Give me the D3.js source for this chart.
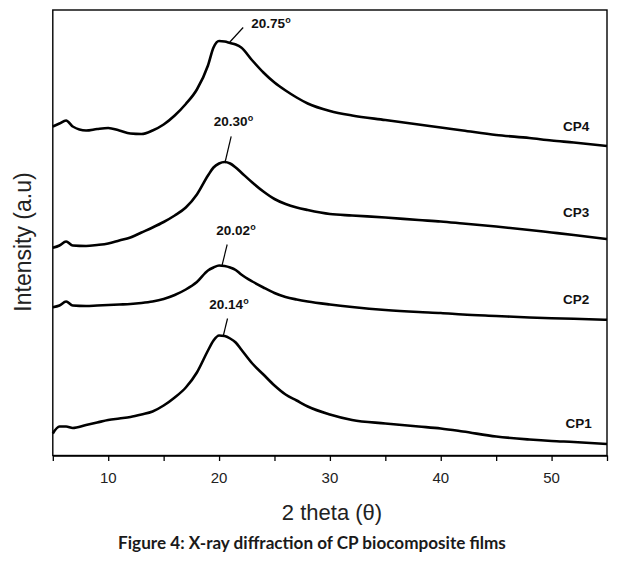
<!DOCTYPE html>
<html><head><meta charset="utf-8">
<script src="https://cdn.jsdelivr.net/npm/d3@7"></script>
<style>body{margin:0;background:#fff}svg{display:block}
.ar{font-family:"Liberation Sans",Arial,Helvetica,sans-serif}
.cal{font-family:Lato,"Open Sans",sans-serif}</style>
</head><body>
<svg id="c" width="617" height="563" viewBox="0 0 617 563"></svg>
<script>
const theta = [5,5.6,6.2,6.8,8,9,10,11,12,13,14,15,16,17,18,19,19.5,20,20.5,21,21.5,22,23,24,25,26,27,28,30,32,35,38,40,42,45,48,50,52,55];
const cp1 = [22,29,29,27.5,30.5,33,35.5,37,38.5,41,44,50,58,68,83,105,115,120,119.5,117,113,106,92,81,70,61,55,49,41,35.5,32,29,27,24,19,16,14.5,13.5,11.5];
const cp2 = [148.3,150,154,150,149.5,150,150.5,151,151.5,152.5,154,156.5,160.5,166,173.5,185,188,190,189.5,188,185.5,181,174,168,162.5,158.5,156,154,151,148.5,145.5,143.5,142.5,141,139.5,138,137.3,136.7,135.7];
const cp3 = [207.7,210,214,210,209.5,210.5,212,215,218,223,228,233.5,240,248,261,280,288,292,293.5,292,288,283,273,264,256.5,251.5,248,245.5,241.5,240,238,235.5,234,232,229,225.5,223,220.5,216.5];
const cp4 = [329,332,335,329,325,326.5,327.5,325,322,321.5,325,331,340,351.5,366,390,408,414.5,414,412.5,411,408,395,383,373,365,358,352,344.5,340,335.5,331,328,325,320.5,317.5,315,313,309.5];
const seriesNames = ["CP1","CP2","CP3","CP4"];
const peakLabels = ["20.14","20.02","20.30","20.75"];
const peakTheta = [20.14,20.02,20.30,20.75];
const xTicks = [10,20,30,40,50];
const xMinor = [5,10,15,20,25,30,35,40,45,50,55];

const svg = d3.select("#c");
const L=52.8, R=607, T=10, B=455.5;
const x = d3.scaleLinear().domain([5,55]).range([L,R]);
const y = d3.scaleLinear().domain([0,445.5]).range([B,T]);
const all = [cp1,cp2,cp3,cp4];

// frame
svg.append("rect").attr("x",L).attr("y",T).attr("width",R-L).attr("height",B-T)
  .style("fill","none").style("stroke","#000").style("stroke-width","1.4px");

const line = d3.line().x((d,i)=>x(theta[i])).y(d=>y(d)).curve(d3.curveMonotoneX);
svg.append("g").selectAll("path").data(all).join("path")
  .attr("d", line).attr("fill","none").attr("stroke","#000")
  .attr("stroke-width",2.6).attr("stroke-linejoin","round");

// x axis ticks
const ax = svg.append("g").attr("transform",`translate(0,${B})`)
  .call(d3.axisBottom(x).tickValues(xMinor).tickSize(5.5).tickSizeOuter(0).tickFormat(""));
ax.select(".domain").style("stroke","#000").style("stroke-width","1.4px");
ax.selectAll(".tick line").style("stroke","#000").style("stroke-width","1.3px");

svg.append("g").selectAll("text").data(xTicks).join("text")
  .attr("class","ar")
  .attr("x",d=>x(d)).attr("y",483).attr("text-anchor","middle")
  .attr("font-size",15).attr("fill","#222").text(d=>d);

svg.append("text").attr("class","ar").attr("x",332).attr("y",520).attr("text-anchor","middle")
  .attr("font-size",22).attr("fill","#222").text("2 theta (θ)");
svg.append("text").attr("class","ar").attr("transform","translate(31,242) rotate(-90)").attr("text-anchor","middle")
  .attr("font-size",23).attr("fill","#222").text("Intensity (a.u)");

// series labels
const labBase = [428,304.3,217,131];
svg.append("g").selectAll("text").data(seriesNames).join("text")
  .attr("class","ar")
  .attr("x",(d,i)=> i===0?565.5:563).attr("y",(d,i)=>labBase[i])
  .attr("font-weight","bold").attr("font-size",13.5).attr("fill","#111").text(d=>d);

// peak annotations
const ann = [
  {dx:4.4, dy:-18, tx:229, ty:309},
  {dx:5.4, dy:-22, tx:236, ty:235},
  {dx:6.3, dy:-26.6, tx:233.5, ty:126},
  {dx:13.3, dy:-14.5, tx:271, ty:28}
];
peakTheta.forEach((p,i)=>{
  const v = d3.max(all[i]);
  const px = x(p)+2.5, py = y(v)+1;
  const a = ann[i];
  svg.append("line").attr("x1",px).attr("y1",py).attr("x2",px+a.dx).attr("y2",py+a.dy)
    .attr("stroke","#000").attr("stroke-width",1.2);
  const t = svg.append("text").attr("class","ar").attr("x",a.tx).attr("y",a.ty).attr("text-anchor","middle")
    .attr("font-weight","bold").attr("font-size",13.5).attr("fill","#111");
  t.append("tspan").text(peakLabels[i]);
  t.append("tspan").attr("font-size",9).attr("dy",-5).text("o");
});

// caption
const cap = svg.append("text").attr("class","cal").attr("x",312).attr("y",549).attr("text-anchor","middle")
  .attr("font-weight","bold").attr("font-size",14).attr("fill","#1a1a1a")
  .text("Figure 4: X-ray diffraction of CP biocomposite films");
const w = cap.node().getComputedTextLength();
cap.attr("font-size", 14*388/w);
</script>
</body></html>
